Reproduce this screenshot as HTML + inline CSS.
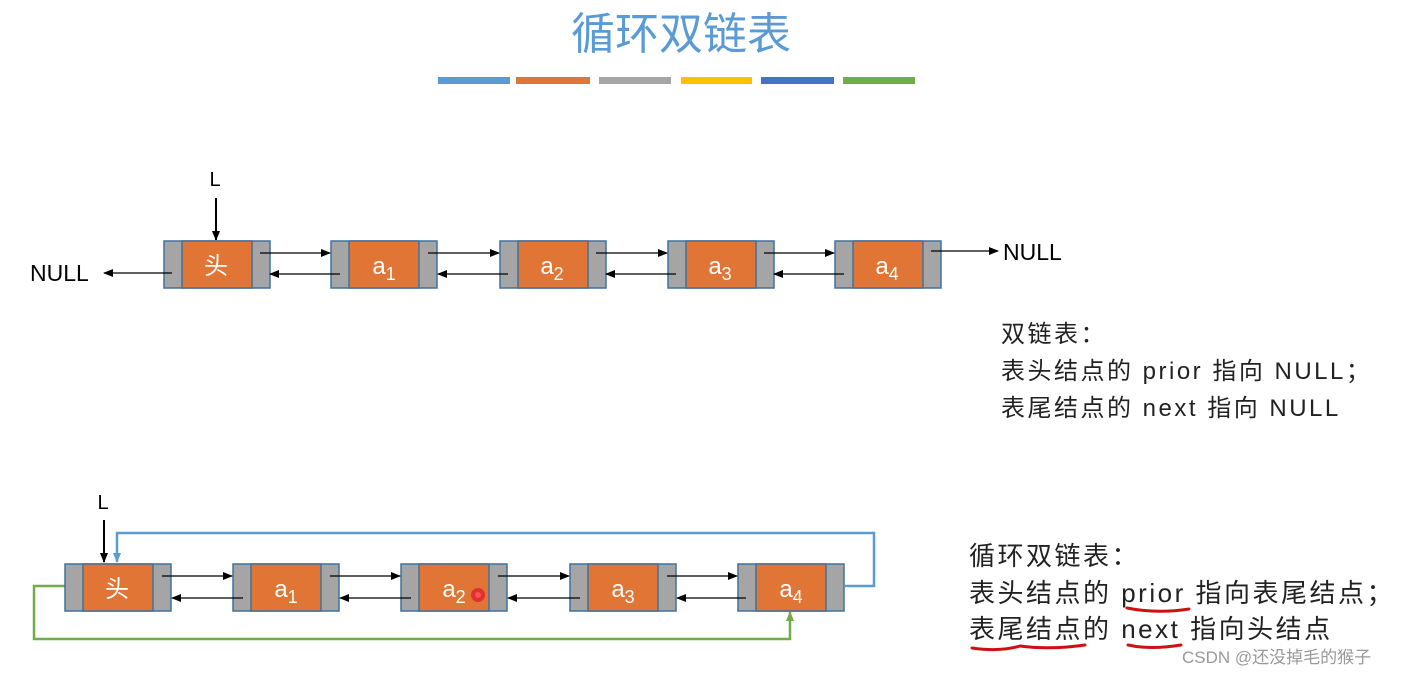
<!DOCTYPE html>
<html><head><meta charset="utf-8"><style>
html,body{margin:0;padding:0;background:#fff;width:1407px;height:675px;overflow:hidden}
svg{display:block}
text{font-family:"Liberation Sans","Noto Sans CJK SC",sans-serif}
</style></head><body>
<svg width="1407" height="675" viewBox="0 0 1407 675" xmlns="http://www.w3.org/2000/svg">
<defs>
<marker id="ab" markerWidth="10" markerHeight="8" refX="9" refY="4" orient="auto" markerUnits="userSpaceOnUse"><path d="M0,0 L10,4 L0,8 z" fill="#000"/></marker>
<marker id="abl" markerWidth="10" markerHeight="8" refX="9" refY="4" orient="auto" markerUnits="userSpaceOnUse"><path d="M0,0 L10,4 L0,8 z" fill="#5b9bd5"/></marker>
<marker id="ag" markerWidth="10" markerHeight="8" refX="9" refY="4" orient="auto" markerUnits="userSpaceOnUse"><path d="M0,0 L10,4 L0,8 z" fill="#70ad47"/></marker>
<g id="node">
<rect x="0" y="0" width="106" height="47" fill="#a5a5a5" stroke="#41719c" stroke-width="1.5"/>
<rect x="18" y="0" width="70" height="47" fill="#e07535" stroke="#41719c" stroke-width="1.5"/>
</g>
</defs>
<text x="681" y="49" text-anchor="middle" font-size="44" fill="#5b9bd5">循环双链表</text>
<rect x="438" y="77" width="72" height="7" fill="#5b9bd5"/>
<rect x="516" y="77" width="74" height="7" fill="#e07535"/>
<rect x="599" y="77" width="72" height="7" fill="#a5a5a5"/>
<rect x="681" y="77" width="71" height="7" fill="#ffc000"/>
<rect x="761" y="77" width="73" height="7" fill="#4472c4"/>
<rect x="843" y="77" width="72" height="7" fill="#70ad47"/>

<!-- top row -->
<text x="215" y="186" text-anchor="middle" font-size="20">L</text>
<line x1="216" y1="198" x2="216" y2="240" stroke="#000" stroke-width="2" marker-end="url(#ab)"/>
<use href="#node" x="164" y="241"/><use href="#node" x="331" y="241"/><use href="#node" x="500" y="241"/><use href="#node" x="668" y="241"/><use href="#node" x="835" y="241"/>
<g font-size="24" fill="#fff" text-anchor="middle">
<text x="216" y="274">头</text>
<text x="384" y="274">a<tspan font-size="18" dy="6">1</tspan></text>
<text x="552" y="274">a<tspan font-size="18" dy="6">2</tspan></text>
<text x="720" y="274">a<tspan font-size="18" dy="6">3</tspan></text>
<text x="887" y="274">a<tspan font-size="18" dy="6">4</tspan></text>
</g>
<g stroke="#000" stroke-width="1.2">
<line x1="260" y1="253" x2="330" y2="253" marker-end="url(#ab)"/><line x1="340" y1="274" x2="270" y2="274" marker-end="url(#ab)"/>
<line x1="428" y1="253" x2="499" y2="253" marker-end="url(#ab)"/><line x1="508" y1="274" x2="438" y2="274" marker-end="url(#ab)"/>
<line x1="596" y1="253" x2="667" y2="253" marker-end="url(#ab)"/><line x1="676" y1="274" x2="606" y2="274" marker-end="url(#ab)"/>
<line x1="764" y1="253" x2="834" y2="253" marker-end="url(#ab)"/><line x1="844" y1="274" x2="774" y2="274" marker-end="url(#ab)"/>
<line x1="931" y1="251" x2="998" y2="251" marker-end="url(#ab)"/>
<line x1="172" y1="273" x2="104" y2="273" marker-end="url(#ab)"/>
</g>
<text x="1003" y="260" font-size="23">NULL</text>
<text x="30" y="281" font-size="23">NULL</text>

<g font-size="24" fill="#222" letter-spacing="2.5">
<text x="1001" y="342">双链表：</text>
<text x="1001" y="379">表头结点的 prior 指向 NULL；</text>
<text x="1001" y="416">表尾结点的 next 指向 NULL</text>
</g>

<!-- bottom row -->
<text x="103" y="509" text-anchor="middle" font-size="20">L</text>
<line x1="104" y1="520" x2="104" y2="562" stroke="#000" stroke-width="2" marker-end="url(#ab)"/>
<polyline points="845,586 874,586 874,533 117,533 117,562" fill="none" stroke="#5b9bd5" stroke-width="2.5" marker-end="url(#abl)"/>
<polyline points="65,586 34,586 34,639 790,639 790,612" fill="none" stroke="#70ad47" stroke-width="2.5" marker-end="url(#ag)"/>
<use href="#node" x="65" y="564"/><use href="#node" x="233" y="564"/><use href="#node" x="401" y="564"/><use href="#node" x="570" y="564"/><use href="#node" x="738" y="564"/>
<g font-size="24" fill="#fff" text-anchor="middle">
<text x="117" y="597">头</text>
<text x="286" y="597">a<tspan font-size="18" dy="6">1</tspan></text>
<text x="454" y="597">a<tspan font-size="18" dy="6">2</tspan></text>
<text x="623" y="597">a<tspan font-size="18" dy="6">3</tspan></text>
<text x="791" y="597">a<tspan font-size="18" dy="6">4</tspan></text>
</g>
<circle cx="478" cy="595" r="7" fill="#e0202a" opacity="0.8"/>
<circle cx="478" cy="595" r="3" fill="#ff5050"/>
<g stroke="#000" stroke-width="1.2">
<line x1="162" y1="576" x2="232" y2="576" marker-end="url(#ab)"/><line x1="243" y1="598" x2="172" y2="598" marker-end="url(#ab)"/>
<line x1="330" y1="576" x2="400" y2="576" marker-end="url(#ab)"/><line x1="411" y1="598" x2="340" y2="598" marker-end="url(#ab)"/>
<line x1="498" y1="576" x2="569" y2="576" marker-end="url(#ab)"/><line x1="580" y1="598" x2="508" y2="598" marker-end="url(#ab)"/>
<line x1="667" y1="576" x2="737" y2="576" marker-end="url(#ab)"/><line x1="746" y1="598" x2="677" y2="598" marker-end="url(#ab)"/>
</g>

<g font-size="26" fill="#222" letter-spacing="2.5">
<text x="969" y="565">循环双链表：</text>
<text x="969" y="602">表头结点的 prior 指向表尾结点；</text>
<text x="969" y="638">表尾结点的 next 指向头结点</text>
</g>
<g fill="none" stroke="#d01010" stroke-width="3" stroke-linecap="round">
<path d="M1127,608 Q1157,614 1189,609"/>
<path d="M972,648 Q1000,652 1020,646 Q1050,650 1085,645"/>
<path d="M1128,645 Q1150,650 1181,645"/>
</g>
<text x="1182" y="663" font-size="17" fill="#999">CSDN @还没掉毛的猴子</text>
</svg>
</body></html>
